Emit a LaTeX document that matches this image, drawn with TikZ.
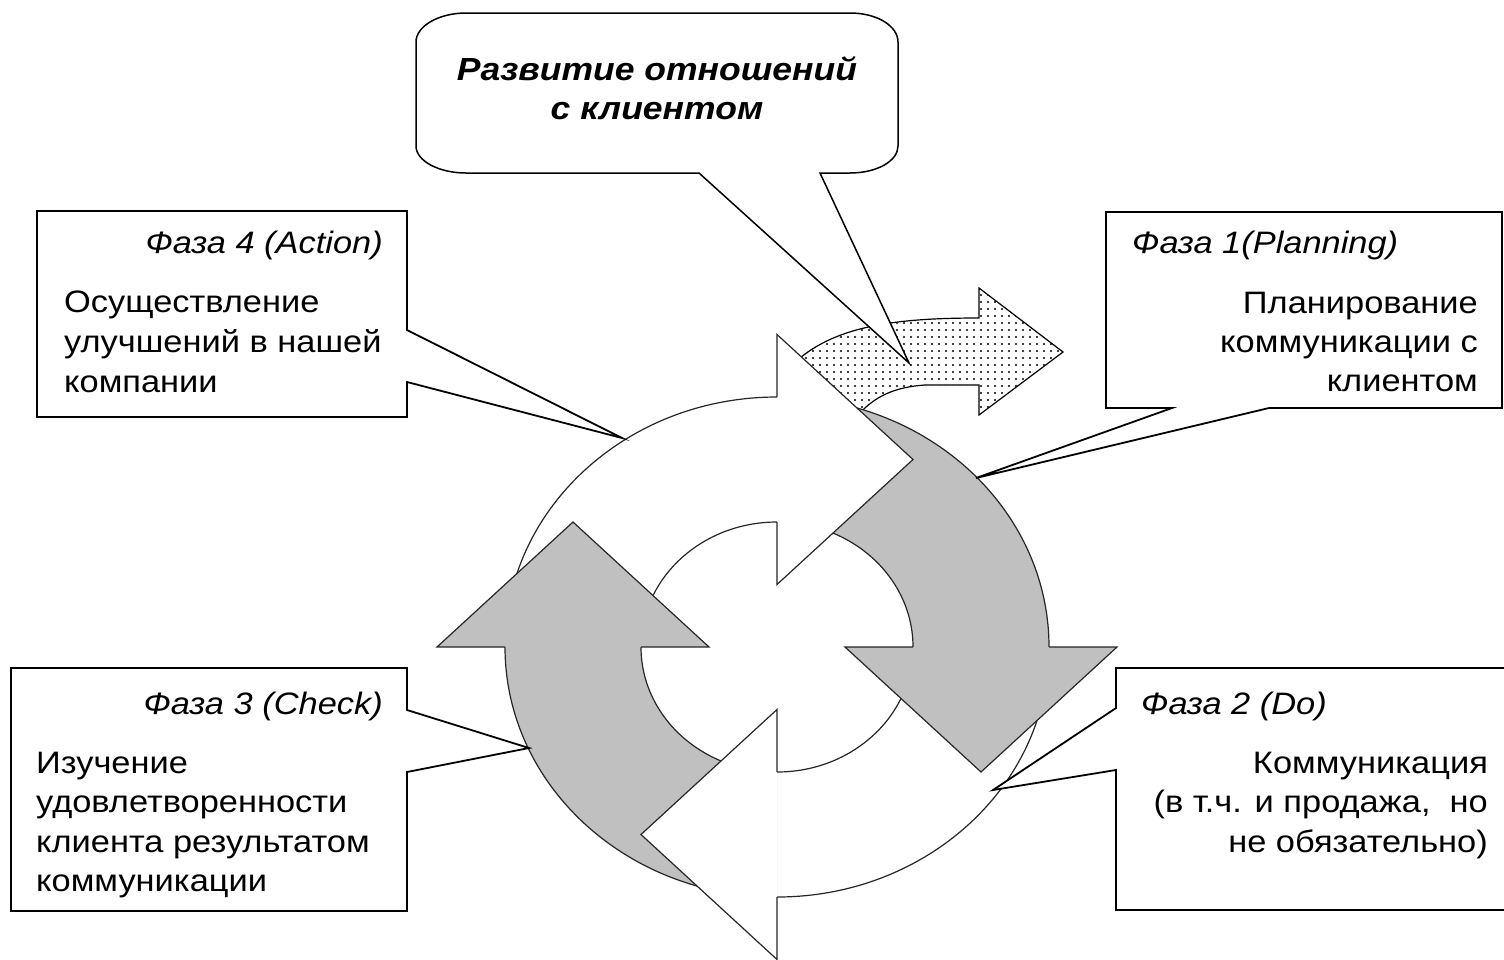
\documentclass[tikz,border=0pt]{standalone}
\usepackage{fontspec}
\setmainfont{Liberation Sans}[FakeStretch=1.11]
\usetikzlibrary{patterns.meta}
\definecolor{arrowgrey}{HTML}{C0C0C0}
\begin{document}
\begin{tikzpicture}[x=1pt,y=-1pt,
  boxline/.style={draw=black, line width=1.8pt, fill=white, line join=miter},
  ringline/.style={draw=black!85, line width=1.2pt},
  phase/.style={font=\fontsize{31}{38}\selectfont\itshape, inner sep=0pt},
  body/.style={font=\fontsize{31}{40}\selectfont, inner sep=0pt},
  title/.style={font=\fontsize{32}{39}\selectfont\bfseries\itshape, inner sep=0pt},
]
\fill[white] (0,0) rectangle (1504,959);
\useasboundingbox (0,0) rectangle (1504,959);

% dotted arrow
\path[draw=black, line width=1.2pt, preaction={fill=white}, pattern={Dots[distance=6.5pt,radius=1.2pt]}]
  (800,358) .. controls (840,325) and (900,318) .. (979,318) -- (979,288) -- (1063,352)
  -- (979,415) -- (979,385) -- (925,385) .. controls (895,387) and (875,396) .. (858,415) -- cycle;

% top callout
\filldraw[fill=white, draw=black, line width=1.5pt]
  (466,13) -- (850,13) .. controls (877,13) and (898,26) .. (898,42) -- (898,146)
  .. controls (898,161) and (877,173) .. (850,173) -- (820,173) -- (909,363) -- (699,173)
  -- (466,173) .. controls (439,173) and (416,161) .. (416,146) -- (416,42)
  .. controls (416,26) and (439,13) .. (466,13) -- cycle;
\node[title, anchor=base] (t1) at (657,80) {Развитие отношений};
\node[title, anchor=base] (t2) at (657,119) {с клиентом};

% shafts
\fill[white] plot[domain=180:270,samples=60] ({777+272*cos(\x)},{647+250*sin(\x)})
  -- plot[domain=270:180,samples=40] ({777+136*cos(\x)},{647+125*sin(\x)}) -- cycle;
\fill[arrowgrey] plot[domain=270:360,samples=60] ({777+272*cos(\x)},{647+250*sin(\x)})
  -- plot[domain=360:270,samples=40] ({777+136*cos(\x)},{647+125*sin(\x)}) -- cycle;
\fill[white] plot[domain=0:90,samples=60] ({777+272*cos(\x)},{647+250*sin(\x)})
  -- plot[domain=90:0,samples=40] ({777+136*cos(\x)},{647+125*sin(\x)}) -- cycle;
\fill[arrowgrey] plot[domain=90:180,samples=60] ({777+272*cos(\x)},{647+250*sin(\x)})
  -- plot[domain=180:90,samples=40] ({777+136*cos(\x)},{647+125*sin(\x)}) -- cycle;
\draw[ringline] (777,647) ellipse [x radius=272, y radius=250];
\draw[ringline] (777,647) ellipse [x radius=136, y radius=125];

% heads
\fill[white] (777,334.5) -- (913,459.5) -- (777,584.5) -- cycle;
\draw[ringline] (777,397) -- (777,334.5) -- (913,459.5) -- (777,584.5) -- (777,522);
\fill[arrowgrey] (845,647) -- (981,772) -- (1117,647) -- cycle;
\draw[ringline] (913,647) -- (845,647) -- (981,772) -- (1117,647) -- (1049,647);
\fill[white] (777,709.5) -- (641,834.5) -- (777,959.5) -- cycle;
\draw[ringline] (777,772) -- (777,709.5) -- (641,834.5) -- (777,959.5) -- (777,897);
\fill[arrowgrey] (437,647) -- (573,522) -- (709,647) -- cycle;
\draw[ringline] (505,647) -- (437,647) -- (573,522) -- (709,647) -- (641,647);

% Phase 4
\filldraw[boxline] (37,211) -- (407,211) -- (407,330) -- (622,438) -- (407,382) -- (407,417) -- (37,417) -- cycle;
\node[phase, anchor=base east] (p4t) at (383,253) {Фаза 4 (Action)};
\node[body, anchor=base west] (p4a) at (64,312) {Осуществление};
\node[body, anchor=base west] (p4b) at (64,352) {улучшений в нашей};
\node[body, anchor=base west] (p4c) at (64,392) {компании};

% Phase 1
\filldraw[boxline] (1106,212) -- (1502,212) -- (1502,408) -- (1269,408) -- (976,478) -- (1172,408) -- (1106,408) -- cycle;
\node[phase, anchor=base west] (p1t) at (1132,253) {Фаза 1(Planning)};
\node[body, anchor=base east] (p1a) at (1478,313) {Планирование};
\node[body, anchor=base east] (p1b) at (1478,352) {коммуникации с};
\node[body, anchor=base east] (p1c) at (1478,391) {клиентом};

% Phase 3
\filldraw[boxline] (11,668) -- (407,668) -- (407,710) -- (529,748) -- (407,772) -- (407,911) -- (11,911) -- cycle;
\node[phase, anchor=base east] (p3t) at (383,714) {Фаза 3 (Check)};
\node[body, anchor=base west] (p3a) at (36,773) {Изучение};
\node[body, anchor=base west] (p3b) at (36,812) {удовлетворенности};
\node[body, anchor=base west] (p3c) at (36,852) {клиента результатом};
\node[body, anchor=base west] (p3d) at (36,891) {коммуникации};

% Phase 2
\filldraw[boxline] (1512,668) -- (1116,668) -- (1116,708) -- (993,790) -- (1116,770) -- (1116,910) -- (1512,910) -- cycle;
\node[phase, anchor=base west] (p2t) at (1141,714) {Фаза 2 (Do)};
\node[body, anchor=base east] (p2a) at (1488,773) {Коммуникация};
\node[body, anchor=base east] (p2b) at (1488,812) {(в т.ч. и продажа,\ \ но};
\node[body, anchor=base east] (p2c) at (1488,852) {не обязательно)};
\end{tikzpicture}
\end{document}
